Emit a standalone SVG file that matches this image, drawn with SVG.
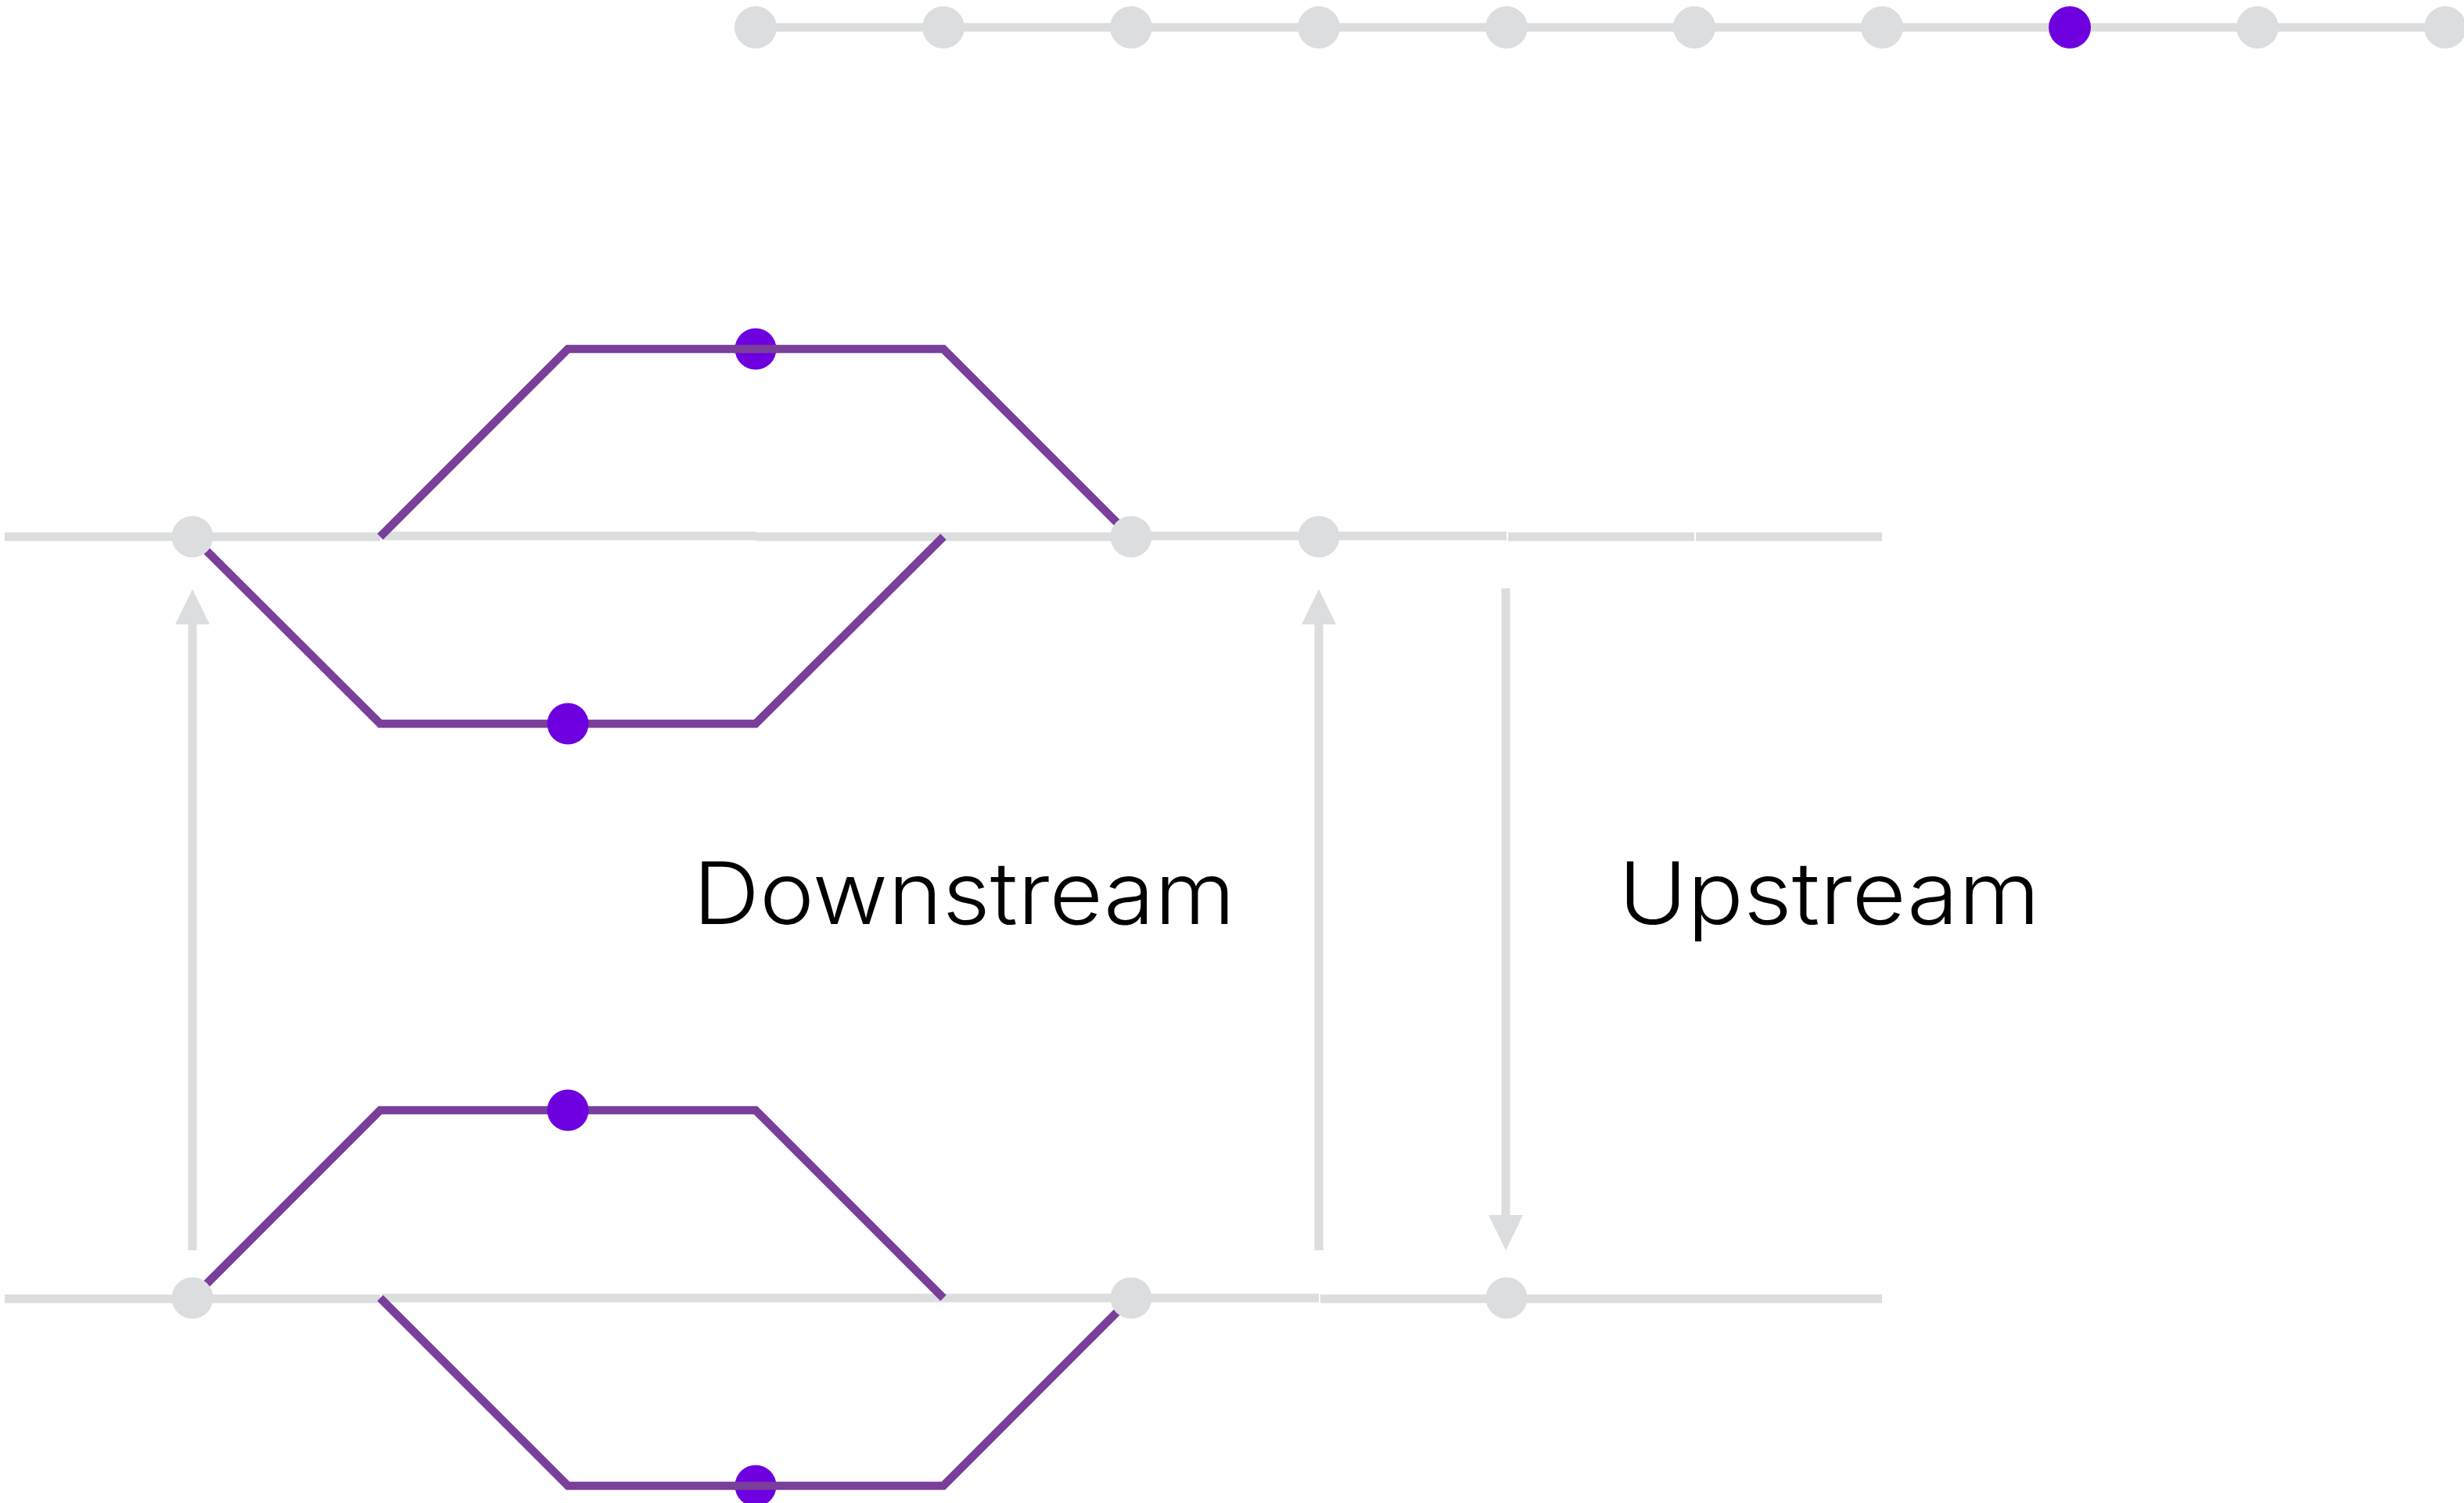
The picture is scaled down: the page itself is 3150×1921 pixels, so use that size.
<svg xmlns="http://www.w3.org/2000/svg" width="3150" height="1921" viewBox="0 0 3150 1921">
  <style>
    .g { stroke: #DCDDDF; stroke-width: 11; fill: none; }
    .p { stroke: #7A3E9B; stroke-width: 10.5; fill: none; }
    .gn { fill: #DCDDDF; }
    .pn { fill: #6E00E0; }
    .lbl { font-family: Inter, "Liberation Sans", sans-serif; font-weight: 300; font-size: 110px; fill: #000; }
  </style>
  <defs>
    <marker id="ah" markerUnits="userSpaceOnUse" markerWidth="46" markerHeight="46" refX="0" refY="22" orient="auto">
      <path d="M0,0 L45,22 L0,44 z" fill="#DCDDDF"/>
    </marker>
  </defs>
  <rect width="3150" height="1921" fill="#FFFFFF"/>

  <g id="connectors">
    <!-- top timeline -->
    <line class="g" x1="966" y1="35" x2="3150" y2="35"/>
    <!-- upper main line -->
    <line class="g" x1="6" y1="686" x2="486" y2="686"/>
    <line class="g" x1="489" y1="685" x2="966" y2="685"/>
    <line class="g" x1="966" y1="686" x2="1206" y2="686"/>
    <line class="g" x1="1206" y1="686" x2="1446" y2="686"/>
    <line class="g" x1="1446" y1="685" x2="1686" y2="685"/>
    <line class="g" x1="1686" y1="685" x2="1926" y2="685"/>
    <line class="g" x1="1928" y1="686" x2="2166" y2="686"/>
    <line class="g" x1="2168" y1="686" x2="2406" y2="686"/>
    <!-- lower main line -->
    <line class="g" x1="6" y1="1660" x2="486" y2="1660"/>
    <line class="g" x1="488" y1="1659" x2="966" y2="1659"/>
    <line class="g" x1="966" y1="1659" x2="1206" y2="1659"/>
    <line class="g" x1="1206" y1="1659" x2="1446" y2="1659"/>
    <line class="g" x1="1446" y1="1659" x2="1686" y2="1659"/>
    <line class="g" x1="1688" y1="1660" x2="2166" y2="1660"/>
    <line class="g" x1="2166" y1="1660" x2="2406" y2="1660"/>

    <!-- vertical arrows -->
    <line class="g" x1="246" y1="1598" x2="246" y2="798" marker-end="url(#ah)"/>
    <line class="g" x1="1686" y1="1598" x2="1686" y2="798" marker-end="url(#ah)"/>
    <line class="g" x1="1925" y1="752" x2="1925" y2="1553" marker-end="url(#ah)"/>

    <!-- upper section purple branches -->
    <polyline class="p" points="486,686 726,446 1206,446 1446,686"/>
    <polyline class="p" points="246,686 486,925 966,925 1206,686"/>
    <!-- lower section purple branches -->
    <polyline class="p" points="246,1659 486,1419 966,1419 1206,1659"/>
    <polyline class="p" points="486,1659 726,1899 1206,1899 1446,1659"/>
  </g>

  <g id="top-nodes">
    <circle class="gn" cx="966" cy="35" r="27"/>
    <circle class="gn" cx="1206" cy="35" r="27"/>
    <circle class="gn" cx="1446" cy="35" r="27"/>
    <circle class="gn" cx="1686" cy="35" r="27"/>
    <circle class="gn" cx="1926" cy="35" r="27"/>
    <circle class="gn" cx="2166" cy="35" r="27"/>
    <circle class="gn" cx="2406" cy="35" r="27"/>
    <circle class="pn" cx="2646" cy="35" r="27"/>
    <circle class="gn" cx="2886" cy="35" r="27"/>
    <circle class="gn" cx="3126" cy="35" r="27"/>
  </g>

  <g id="upper-nodes">
    <circle class="gn" cx="246" cy="686" r="26.5"/>
    <circle class="gn" cx="1446" cy="686" r="26.5"/>
    <circle class="gn" cx="1686" cy="686" r="26.5"/>
    <circle class="pn" cx="966" cy="446" r="26.5"/>
    <line class="p" x1="939" y1="446" x2="993" y2="446"/>
    <circle class="pn" cx="726" cy="925" r="26.5"/>
  </g>

  <g id="lower-nodes">
    <circle class="gn" cx="246" cy="1659" r="26.5"/>
    <circle class="gn" cx="1446" cy="1659" r="26.5"/>
    <circle class="gn" cx="1926" cy="1659" r="26.5"/>
    <circle class="pn" cx="726" cy="1419" r="26.5"/>
    <circle class="pn" cx="966" cy="1899" r="26.5"/>
    <line class="p" x1="939" y1="1899" x2="993" y2="1899"/>
  </g>

  <g id="labels">
    <text class="lbl" x="886" y="1181" textLength="693" lengthAdjust="spacingAndGlyphs">Downstream</text>
    <text class="lbl" x="2069" y="1181" textLength="539" lengthAdjust="spacingAndGlyphs">Upstream</text>
  </g>
</svg>
